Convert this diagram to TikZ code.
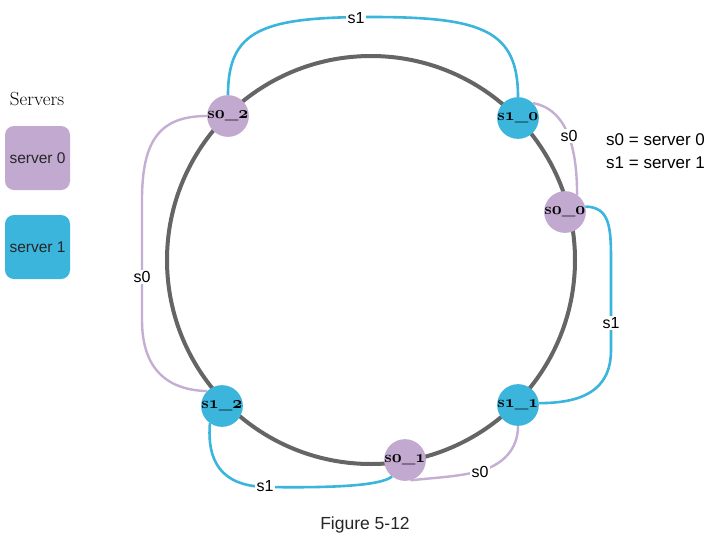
\documentclass[tikz,border=0pt]{standalone}
\usepackage{fontspec}
\newfontfamily\arialf{Liberation Sans}
\newcommand{\osd}[1]{{\usefont{OML}{cmm}{b}{it}#1}}
\definecolor{ringgray}{HTML}{656565}
\definecolor{purp}{HTML}{C1A9D0}
\definecolor{purpline}{HTML}{C4AED3}
\definecolor{blu}{HTML}{3BB5DC}
\begin{document}
\begin{tikzpicture}[x=1pt,y=-1pt,
  ring/.style={draw=ringgray,line width=4pt},
  srvzero/.style={circle,fill=purp,minimum size=38pt,inner sep=0pt,font=\fontsize{16}{16}\selectfont\bfseries},
  srvone/.style={circle,fill=blu,minimum size=38pt,inner sep=0pt,font=\fontsize{16}{16}\selectfont\bfseries},
  lnzero/.style={draw=purpline,line width=2.4pt},
  lnone/.style={draw=blu,line width=2.6pt},
  lbl/.style={fill=white,inner sep=1.5pt,font=\arialf\fontsize{16}{16}\selectfont},
  legbox/.style={rounded corners=9pt,minimum width=65pt,minimum height=64pt,inner sep=0pt,font=\arialf\fontsize{15.5}{15.5}\selectfont,text=black!85}
]
\useasboundingbox (0,0) rectangle (718,547);
\fill[white] (0,0) rectangle (718,547);

% ring
\draw[ring] (371,260) circle[radius=204pt];

% nodes on ring
\node[srvzero] (n02) at (228,116) {s\osd{0}\_\osd{2}};
\node[srvone]  (n10) at (518,118) {s\osd{1}\_\osd{0}};
\node[srvzero] (n00) at (565,212) {s\osd{0}\_\osd{0}};
\node[srvone]  (n11) at (518,405) {s\osd{1}\_\osd{1}};
\node[srvzero] (n01) at (405,460) {s\osd{0}\_\osd{1}};
\node[srvone]  (n12) at (222,406) {s\osd{1}\_\osd{2}};

% connectors
\draw[lnone] (n02.north) .. controls (228,30) and (262,17) .. (372,17)
  .. controls (482,17) and (518,30) .. (n10.north);
\node[lbl] (l1) at (356,18) {s1};

\draw[lnzero] (n10.45) .. controls (572,110) and (577,160) .. (n00.55);
\node[lbl] (l2) at (569,136) {s0};

\draw[lnone] (n00.15) .. controls (610,207) and (611,228) .. (611,260)
  -- (611,350) .. controls (611,392) and (580,403) .. (n11.5);
\node[lbl] (l3) at (611,323) {s1};

\draw[lnzero] (n11.south) .. controls (518,450) and (502,465) .. (480,471)
  .. controls (458,477) and (430,478) .. (n01.-75);
\node[lbl] (l4) at (480,472) {s0};

\draw[lnone] (n01.232) .. controls (380,486) and (330,488) .. (266,487)
  .. controls (220,486) and (207,460) .. (n12.235);
\node[lbl] (l5) at (265,486) {s1};

\draw[lnzero] (n12.135) .. controls (168,390) and (142,370) .. (142,320)
  -- (142,200) .. controls (142,140) and (160,116) .. (n02.180);
\node[lbl] (l6) at (142,277) {s0};

% legend left
\node (title) at (37,99) {\fontsize{19}{19}\selectfont Servers};
\node[legbox,fill=purp] (b0) at (37.5,158) {server 0};
\node[legbox,fill=blu] (b1) at (37.5,247) {server 1};

% legend right
\node[anchor=west,align=left,inner sep=0pt,font=\arialf\fontsize{17}{23.5}\selectfont] (key) at (606,151) {s0 = server 0\\s1 = server 1};

% caption
\node[font=\arialf\fontsize{17.5}{17.5}\selectfont,text=black!85] (cap) at (365,525) {Figure 5-12};
\end{tikzpicture}
\end{document}
